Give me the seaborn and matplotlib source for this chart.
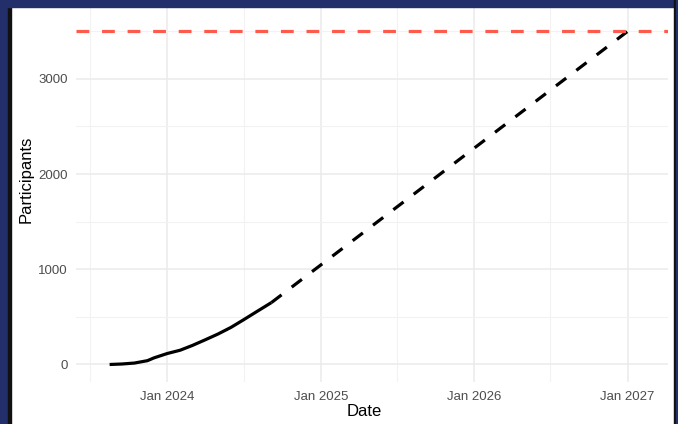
import matplotlib
matplotlib.use("Agg")
import matplotlib.pyplot as plt
import matplotlib.dates as mdates
import matplotlib.patches as mpatches
from matplotlib.ticker import MultipleLocator
import seaborn as sns
import pandas as pd

# ─── Data ───────────────────────────────────────────────────────────────
actual_dates = ["2023-08-17", "2023-09-15", "2023-10-15", "2023-11-15", "2023-12-01",
                "2024-01-01", "2024-02-01", "2024-03-01", "2024-04-01", "2024-05-01",
                "2024-06-01", "2024-07-01", "2024-08-01", "2024-09-05"]
actual_values = [0, 5, 15, 40, 70, 115, 150, 200, 260, 320, 390, 470, 555, 650]

projection_dates = ["2024-09-05", "2027-01-01"]
projection_values = [650, 3500]

target = 3500

actual = pd.DataFrame({"Date": pd.to_datetime(actual_dates), "Participants": actual_values})
projection = pd.DataFrame({"Date": pd.to_datetime(projection_dates), "Participants": projection_values})

# ─── Style ──────────────────────────────────────────────────────────────
sns.set_theme(style="whitegrid")
plt.rcParams["font.family"] = ["Liberation Sans", "DejaVu Sans"]

W, H = 678, 424
fig = plt.figure(figsize=(W / 100, H / 100), dpi=100)
ax = fig.add_axes([76 / W, 1 - 382 / H, (668 - 76) / W, (382 - 7) / H])

sns.lineplot(data=actual, x="Date", y="Participants", ax=ax,
             color="black", linewidth=2.3, solid_capstyle="butt")
sns.lineplot(data=projection, x="Date", y="Participants", ax=ax,
             color="black", linewidth=2.3, linestyle=(0, (4.0, 4.0)), dash_capstyle="butt")
ax.axhline(target, color="#FF5A4B", linewidth=2.3, linestyle=(0, (4.0, 4.0)), dash_capstyle="butt")

ax.set_xlim(pd.Timestamp("2023-05-29"), pd.Timestamp("2027-04-07"))
ax.set_ylim(-184, 3755)

ax.xaxis.set_major_locator(mdates.YearLocator())
ax.xaxis.set_major_formatter(mdates.DateFormatter("Jan %Y"))
ax.xaxis.set_minor_locator(mdates.MonthLocator(bymonth=7))
ax.yaxis.set_major_locator(MultipleLocator(1000))
ax.yaxis.set_minor_locator(MultipleLocator(500))

ax.set_facecolor("white")
ax.grid(which="major", color="#EBEBEB", linewidth=1.1)
ax.grid(which="minor", color="#F2F2F2", linewidth=0.8)
ax.set_axisbelow(True)
for s in ax.spines.values():
    s.set_visible(False)

ax.tick_params(axis="both", which="both", length=0, labelsize=9.5, labelcolor="#4D4D4D")
ax.tick_params(axis="x", pad=6.5)
ax.tick_params(axis="y", pad=6)
ax.set_xlabel("Date", fontsize=12, color="black")
ax.set_ylabel("Participants", fontsize=12, color="black")
ax.xaxis.set_label_coords((364 - 76) / 592, -(411 - 382) / 375, transform=ax.transAxes)
ax.yaxis.set_label_coords(-(76 - 26) / 592, (382 - 179) / 375, transform=ax.transAxes)
ax.xaxis.label.set_va("center")
ax.yaxis.label.set_va("center")

# ─── Slide frame ────────────────────────────────────────────────────────
navy = "#232F6B"
frame = [
    (0, 0, 8, H, navy),
    (8, 0, 2.5, H, "#111111"),
    (0, H - 6.5, W, 6.5, navy),
    (674, 0, 2, H, "#111111"),
    (676, 0, 2, H, navy),
]
for x0, y0, w, h, c in frame:
    fig.patches.append(mpatches.Rectangle((x0 / W, y0 / H), w / W, h / H,
                                          transform=fig.transFigure, color=c, zorder=10))

fig.savefig("out.png", dpi=100)
